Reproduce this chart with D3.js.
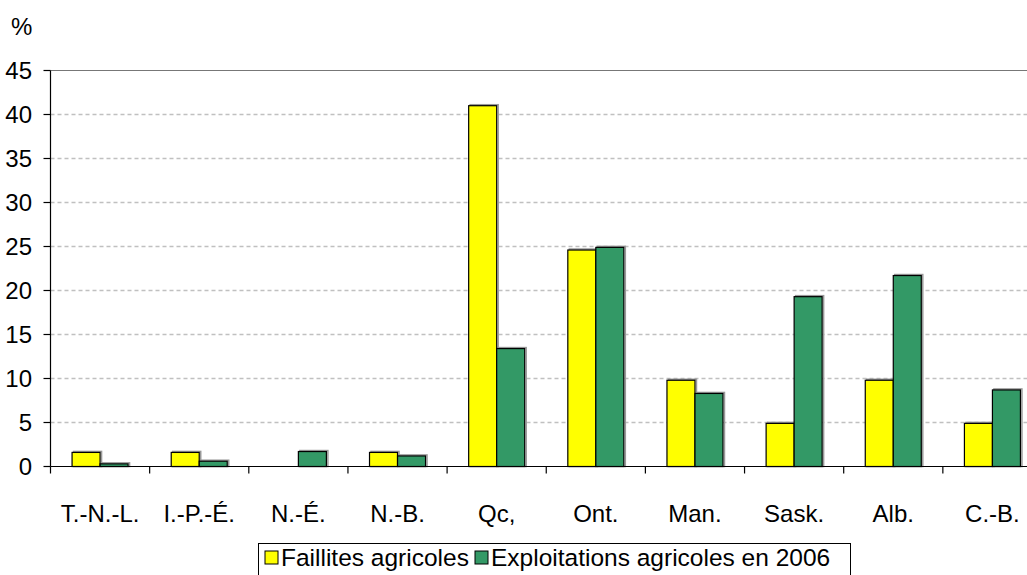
<!DOCTYPE html>
<html>
<head>
<meta charset="utf-8">
<script src="https://cdn.jsdelivr.net/npm/d3@7"></script>
<style>
  body { margin: 0; background: #fff; }
  svg { display: block; }
  text { font-family: "Liberation Sans", Arial, sans-serif; fill: #000; }
</style>
</head>
<body>
<svg width="1027" height="575"></svg>
<script>
// provinces
var categories = ["T.-N.-L.", "I.-P.-É.", "N.-É.", "N.-B.", "Qc,", "Ont.", "Man.", "Sask.", "Alb.", "C.-B."]
var seriesNames = ["Faillites agricoles", "Exploitations agricoles en 2006"]
var faillites = [1.6, 1.6, 0, 1.6, 41.0, 24.6, 9.8, 4.9, 9.8, 4.9]
var exploitations = [0.3, 0.6, 1.7, 1.2, 13.4, 24.9, 8.3, 19.3, 21.7, 8.7]
var yTicks = [0, 5, 10, 15, 20, 25, 30, 35, 40, 45]
var colors = ["#ffff00", "#339966"]

var svg = d3.select("svg")

var margin = {top: 70.5, left: 50.5},
    width = 991.5,
    height = 396

var x0 = d3.scaleBand().domain(categories).range([margin.left, margin.left + width])
var x1 = d3.scaleBand().domain(seriesNames).range([0, x0.bandwidth()]).paddingOuter(0.77)
var y = d3.scaleLinear().domain([0, 45]).range([margin.top + height, margin.top])

// gridlines
svg.append("g")
    .selectAll("line")
    .data(yTicks.filter(function(d){ return d > 0 && d < 45 }))
    .enter().append("line")
    .attr("x1", margin.left).attr("x2", margin.left + width)
    .attr("y1", function(d){ return y(d) }).attr("y2", function(d){ return y(d) })
    .attr("stroke", "#c0c0c0")
    .attr("stroke-width", 1.5)
    .attr("stroke-dasharray", "4,3")

// top border of plot area
svg.append("line")
    .attr("x1", margin.left).attr("x2", margin.left + width)
    .attr("y1", y(45)).attr("y2", y(45))
    .attr("stroke", "#777").attr("stroke-width", 1.2)

var rows = categories.map(function(c, i){
    return {cat: c, values: [faillites[i], exploitations[i]]}
})

var groups = svg.append("g").selectAll("g")
    .data(rows)
    .enter().append("g")
    .attr("transform", function(d){ return "translate(" + x0(d.cat) + ",0)" })

function barData(d){
    return d.values.map(function(v, j){ return {name: seriesNames[j], value: v, idx: j} })
        .filter(function(b){ return b.value > 0 })
}

// shadows
groups.selectAll("rect.shadow")
    .data(barData)
    .enter().append("rect")
    .attr("class", "shadow")
    .attr("x", function(b){ return x1(b.name) + 1.5 })
    .attr("y", function(b){ return y(b.value) - 1 })
    .attr("width", x1.bandwidth())
    .attr("height", function(b){ return y(0) - y(b.value) + 1 })
    .attr("fill", "none")
    .attr("stroke", "#999")
    .attr("stroke-width", 1.5)

groups.selectAll("rect.bar")
    .data(barData)
    .enter().append("rect")
    .attr("class", "bar")
    .attr("x", function(b){ return x1(b.name) })
    .attr("y", function(b){ return y(b.value) })
    .attr("width", x1.bandwidth())
    .attr("height", function(b){ return y(0) - y(b.value) })
    .attr("fill", function(b){ return colors[b.idx] })
    .attr("stroke", "#000")
    .attr("stroke-width", 1.2)

// y axis
svg.append("line")
    .attr("x1", margin.left).attr("x2", margin.left)
    .attr("y1", y(0)).attr("y2", y(45))
    .attr("stroke", "#000").attr("stroke-width", 1.2)

svg.append("g").selectAll("line")
    .data(yTicks)
    .enter().append("line")
    .attr("x1", margin.left - 7).attr("x2", margin.left)
    .attr("y1", function(d){ return y(d) }).attr("y2", function(d){ return y(d) })
    .attr("stroke", "#000").attr("stroke-width", 1.2)

svg.append("g").selectAll("text")
    .data(yTicks)
    .enter().append("text")
    .attr("x", 32)
    .attr("y", function(d){ return y(d) + 8.5 })
    .attr("text-anchor", "end")
    .style("font-size", "24px")
    .text(function(d){ return d })

svg.append("text")
    .attr("x", 11).attr("y", 35)
    .style("font-size", "24px")
    .text("%")

// x axis
svg.append("line")
    .attr("x1", margin.left).attr("x2", margin.left + width)
    .attr("y1", y(0)).attr("y2", y(0))
    .attr("stroke", "#000").attr("stroke-width", 1.2)

svg.append("g").selectAll("line")
    .data(categories.concat(["end"]))
    .enter().append("line")
    .attr("x1", function(d, i){ return margin.left + i * x0.step() })
    .attr("x2", function(d, i){ return margin.left + i * x0.step() })
    .attr("y1", y(0)).attr("y2", y(0) + 7)
    .attr("stroke", "#000").attr("stroke-width", 1.2)

svg.append("g").selectAll("text")
    .data(categories)
    .enter().append("text")
    .attr("x", function(d){ return x0(d) + x0.bandwidth() / 2 })
    .attr("y", 522)
    .attr("text-anchor", "middle")
    .style("font-size", "24px")
    .text(function(d){ return d })

// legend
var legend = svg.append("g")
legend.append("rect")
    .attr("x", 258.5).attr("y", 543.5)
    .attr("width", 592).attr("height", 40)
    .attr("fill", "#fff").attr("stroke", "#000").attr("stroke-width", 1)

var legendX = [265, 475]
seriesNames.forEach(function(name, i){
    legend.append("rect")
        .attr("x", legendX[i]).attr("y", 551)
        .attr("width", 13).attr("height", 13)
        .attr("fill", colors[i]).attr("stroke", "#000").attr("stroke-width", 1)
    legend.append("text")
        .attr("x", legendX[i] + 16).attr("y", 566)
        .style("font-size", "24.5px")
        .text(name)
})
</script>
</body>
</html>
